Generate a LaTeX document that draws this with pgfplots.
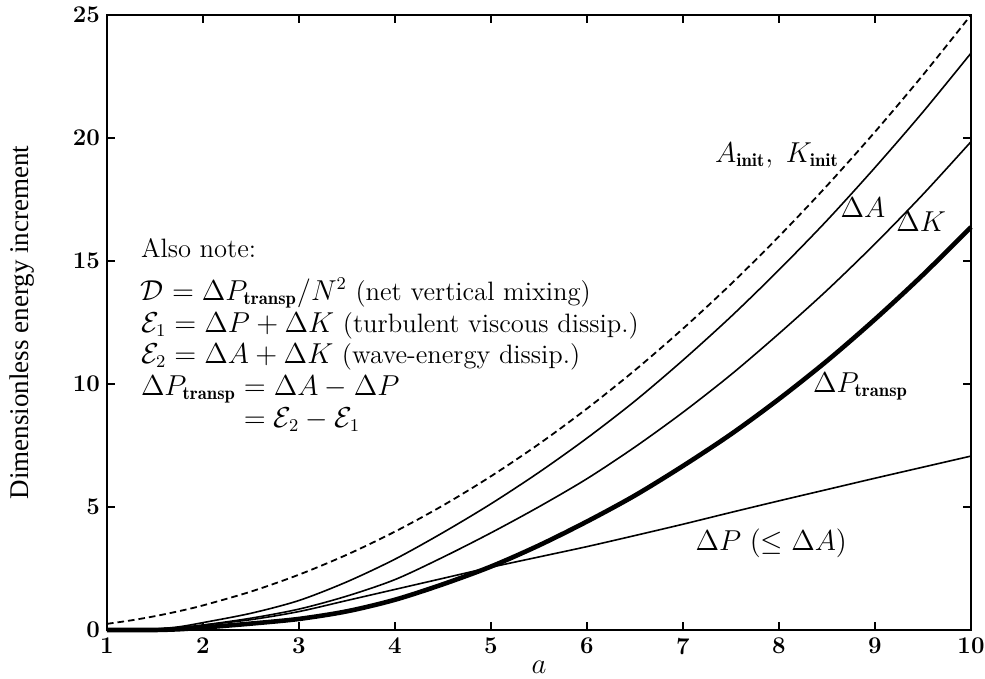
\documentclass[border=0pt]{standalone}
\usepackage{fontspec}
\usepackage{pgfplots}
\pgfplotsset{compat=1.18}
\newfontfamily\timesfont{Liberation Serif}

% a, A_init (=K_init), dA, dK, dP, dP_transp (= dA - dP)
\pgfplotstableread{
a    Ainit    dA     dK     dP     dPt
1.0  0.25     0.00   0.00   0.00   0.00
1.25 0.3906   0.01   0.01   0.01   0.00
1.5  0.5625   0.04   0.03   0.04   0.00
1.75 0.7656   0.13   0.09   0.10   0.03
2.0  1.0      0.30   0.20   0.20   0.10
2.5  1.5625   0.68   0.48   0.42   0.26
3.0  2.25     1.20   0.85   0.75   0.45
3.5  3.0625   1.96   1.38   1.20   0.76
4.0  4.0      2.88   2.05   1.65   1.23
4.5  5.0625   3.96   2.96   2.10   1.86
5.0  6.25     5.13   3.95   2.55   2.58
5.5  7.5625   6.41   5.01   2.97   3.44
6.0  9.0      7.80   6.15   3.39   4.41
6.5  10.5625  9.31   7.44   3.84   5.47
7.0  12.25    10.97  8.85   4.30   6.67
7.5  14.0625  12.74  10.38  4.78   7.96
8.0  16.0     14.64  12.05  5.25   9.39
8.5  18.0625  16.65  13.81  5.71   10.94
9.0  20.25    18.80  15.70  6.17   12.63
9.5  22.5625  21.06  17.71  6.62   14.44
10.0 25.0     23.45  19.85  7.07   16.38
}\energy

\begin{document}
\begin{tikzpicture}
\begin{axis}[
    scale only axis,
    width=432pt, height=307.5pt,
    xmin=1, xmax=10, ymin=0, ymax=25,
    xtick={1,2,...,10}, ytick={0,5,...,25},
    tick pos=both, tick align=inside,
    major tick length=4pt,
    every tick/.style={black, line width=0.8pt},
    axis line style={line width=0.9pt},
    font=\fontsize{13.3}{15.5}\selectfont,
    /pgf/number format/assume math mode=true,
    tick label style={font=\fontsize{12}{14}\selectfont\bfseries},
    xticklabel style={yshift=-0.5pt},
    xlabel={$a$},
    xlabel style={at={(axis description cs:0.5,-0.061)}, anchor=center, inner sep=0pt},
    ylabel={\timesfont\fontsize{13.5}{15}\selectfont Dimensionless energy increment},
    ylabel style={at={(axis description cs:-0.098,0.5)}, anchor=center},
    clip=false,
]
\addplot[black, line width=0.9pt, dash pattern=on 3.3pt off 2pt, smooth] table[x=a, y=Ainit] {\energy};
\addplot[black, line width=0.8pt, smooth] table[x=a, y=dA] {\energy};
\addplot[black, line width=0.8pt, smooth] table[x=a, y=dK] {\energy};
\addplot[black, line width=0.8pt, smooth] table[x=a, y=dP] {\energy};
\addplot[black, line width=2.3pt, smooth] table[x=a, y=dPt] {\energy};

\node at (axis cs:7.98,19.3) {$A_{\mathbf{init}},\; K_{\mathbf{init}}$};
\node at (axis cs:8.875,17.15) {$\Delta A$};
\node at (axis cs:9.48,16.6) {$\Delta K$};
\node[anchor=west, inner sep=0pt] at (axis cs:8.35,9.9) {$\Delta P_{\mathbf{transp}}$};
\node at (axis cs:7.92,3.54) {$\Delta P\ (\le \Delta A)$};
\node[anchor=north west, align=left, inner sep=0pt] at (axis cs:1.35,15.95) {%
    Also note:\\[6pt]
    $\mathcal{D}=\Delta P_{\mathbf{transp}}/N^2$ (net vertical mixing)\\[0.5pt]
    $\mathcal{E}_1=\Delta P+\Delta K$ (turbulent viscous dissip.)\\
    $\mathcal{E}_2=\Delta A+\Delta K$ (wave-energy dissip.)\\[0.5pt]
    $\Delta P_{\mathbf{transp}}=\Delta A-\Delta P$\\[0.5pt]
    $\phantom{\Delta P_{\mathbf{transp}}}=\mathcal{E}_2-\mathcal{E}_1$};
\end{axis}
\pgfresetboundingbox
\path ([xshift=-53.5pt,yshift=-24.5pt]current axis.south west) rectangle ([xshift=7pt,yshift=7.5pt]current axis.north east);
\end{tikzpicture}
\end{document}
